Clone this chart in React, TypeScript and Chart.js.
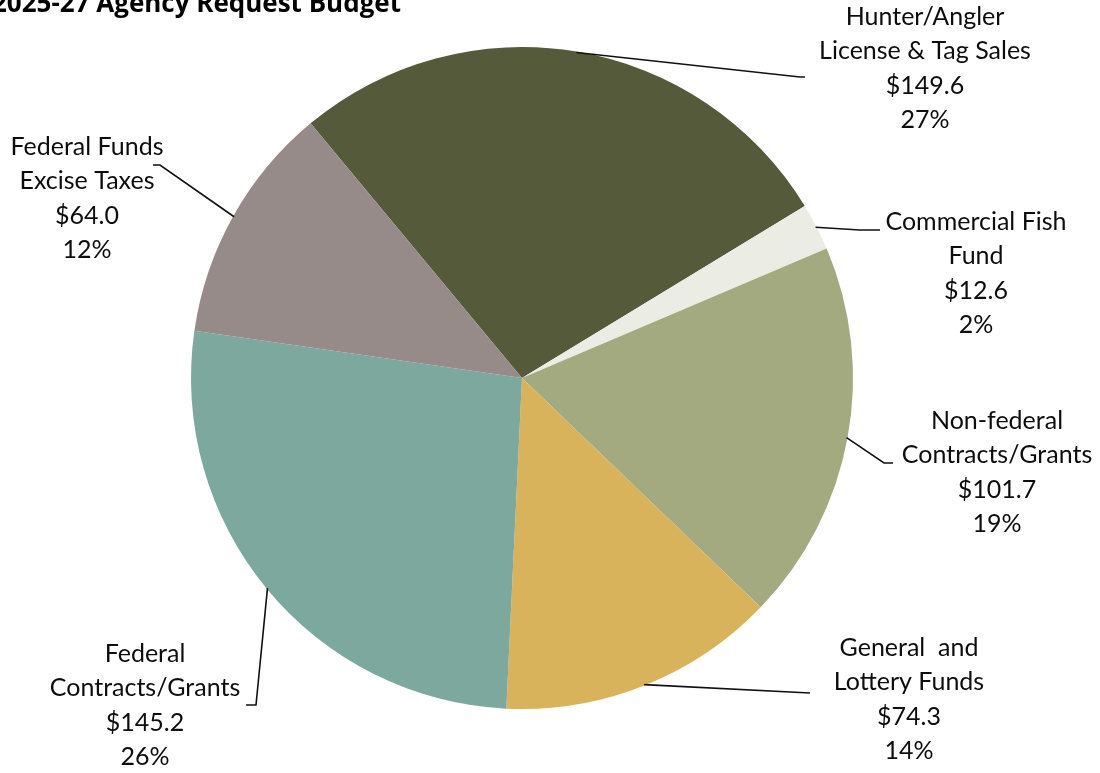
import React, { useEffect, useRef } from "react";
import { Chart, registerables } from "chart.js";

Chart.register(...registerables);

const title = "2025-27 Agency Request Budget";
const categories = [
  ["Hunter/Angler", "License & Tag Sales"],
  ["Commercial Fish", "Fund"],
  ["Non-federal", "Contracts/Grants"],
  ["General  and", "Lottery Funds"],
  ["Federal", "Contracts/Grants"],
  ["Federal Funds", "Excise Taxes"],
];
const amounts = [149.6, 12.6, 101.7, 74.3, 145.2, 64.0];
const percentLabels = ["27%", "2%", "19%", "14%", "26%", "12%"];
const colors = ["#545a3a", "#ebece4", "#a3aa80", "#d9b25c", "#7ca89e", "#968b89"];

// label layout: elbow point, end point, text center x, first line center y
const labelLayout = [
  { elbow: [800, 77], end: [805, 77], tx: 925, ty: 17 },
  { elbow: [860, 230], end: [880, 230], tx: 976, ty: 222 },
  { elbow: [884, 463], end: [893, 463], tx: 997, ty: 421 },
  { elbow: [810, 693], end: [810, 693], tx: 909, ty: 648 },
  { elbow: [256, 705], end: [246, 705], tx: 145, ty: 654 },
  { elbow: [160, 165], end: [153, 165], tx: 87, ty: 147 },
];

const FONT = "Lato, 'Open Sans', sans-serif";

const labelPlugin = {
  id: "leaderLabels",
  afterDraw(chart: any) {
    const ctx = chart.ctx;
    const meta = chart.getDatasetMeta(0);
    ctx.save();
    meta.data.forEach((arc: any, i: number) => {
      const { x, y, startAngle, endAngle, outerRadius } = arc.getProps(
        ["x", "y", "startAngle", "endAngle", "outerRadius"],
        true
      );
      const mid = (startAngle + endAngle) / 2;
      const r = outerRadius - 1;
      const sx = x + Math.cos(mid) * r;
      const sy = y + Math.sin(mid) * r;
      const L = labelLayout[i];
      ctx.strokeStyle = "#111";
      ctx.lineWidth = 1.6;
      ctx.beginPath();
      ctx.moveTo(sx, sy);
      ctx.lineTo(L.elbow[0], L.elbow[1]);
      ctx.lineTo(L.end[0], L.end[1]);
      ctx.stroke();

      const lines = [
        ...categories[i],
        "$" + amounts[i].toFixed(1),
        percentLabels[i],
      ];
      ctx.fillStyle = "#0d0d0d";
      ctx.font = `25px ${FONT}`;
      ctx.textAlign = "center";
      ctx.textBaseline = "middle";
      lines.forEach((t, k) => {
        ctx.fillText(t, L.tx, L.ty + k * 34.4);
      });
    });
    // title
    ctx.font = "bold 26px 'Open Sans', sans-serif";
    ctx.textAlign = "right";
    ctx.textBaseline = "alphabetic";
    ctx.fillStyle = "#000";
    ctx.fillText(title, 401, 12);
    ctx.restore();
  },
};

export default function App() {
  const ref = useRef<HTMLCanvasElement>(null);
  useEffect(() => {
    if (!ref.current) return;
    const chart = new Chart(ref.current, {
      type: "pie",
      data: {
        labels: categories.map((c) => c.join(" ")),
        datasets: [
          {
            data: amounts,
            backgroundColor: colors,
            borderWidth: 0,
          },
        ],
      },
      options: {
        responsive: false,
        animation: false,
        rotation: -39.7,
        layout: { padding: { left: 191, right: 247, top: 47, bottom: 64 } },
        plugins: {
          legend: { display: false },
          tooltip: { enabled: false },
          title: { display: false },
        },
      },
      plugins: [labelPlugin],
    });
    return () => chart.destroy();
  }, []);
  return (
    <div style={{ position: "fixed", left: 0, top: 0, width: 1100, height: 773, background: "#fff" }}>
      <canvas ref={ref} width={1100} height={773} style={{ width: 1100, height: 773 }} />
    </div>
  );
}
